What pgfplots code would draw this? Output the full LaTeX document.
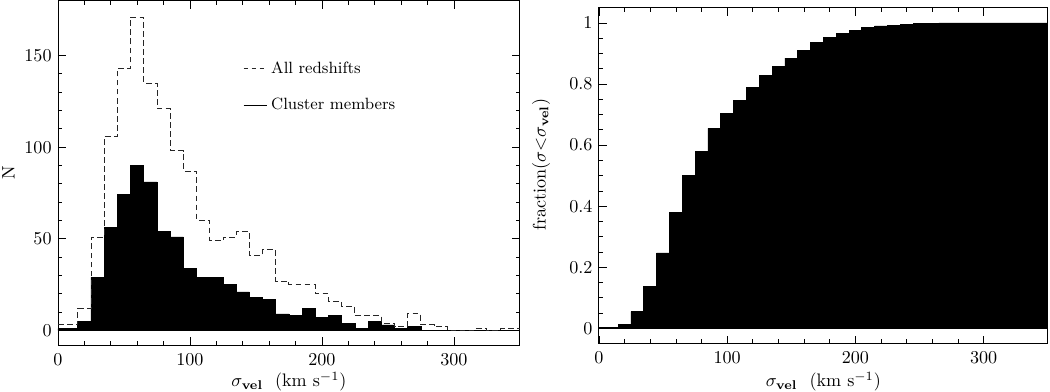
\documentclass[border=0pt]{standalone}
\usepackage{pgfplots}
\usepackage{pgfplotstable}
\pgfplotsset{compat=1.18}

% histogram of velocity dispersions, 10 km/s bins (left edges)
\pgfplotstableread{
x   all  memb
0   3    1
5   3    1
15  12   5
25  51   29
35  106  56
45  143  74
55  171  90
65  135  81
75  121  54
85  98   51
95  87   34
105 60   29
115 49   29
125 51   25
135 54   21
145 41   18
155 44   17
165 27   9
175 25   8
185 25   12
195 20   7
205 16   8
215 13   4
225 8    1
235 8    5
245 4    3
255 2    1
265 9    2
275 3    0
285 2    0
295 0    0
305 0    0
315 1    0
325 0    0
335 1    0
345 1    0
350 1    0
}\histdata

% cumulative fraction of cluster members
\pgfplotstableread{
x   frac
0   0.002
5   0.003
15  0.013
25  0.055
35  0.137
45  0.247
55  0.380
65  0.500
75  0.580
85  0.655
95  0.705
105 0.747
115 0.790
125 0.827
135 0.858
145 0.885
155 0.911
165 0.936
175 0.952
185 0.965
195 0.976
205 0.985
215 0.990
225 0.993
235 0.995
245 0.997
255 0.998
265 1.000
350 1.000
}\cumdata

\pgfplotsset{
  panel/.style={
    scale only axis,
    axis line style={line width=0.5pt},
    tick align=inside,
    tick style={black, line width=0.4pt},
    major tick length=4.5pt,
    minor tick length=2.3pt,
    xmin=0, xmax=350,
    xtick={0,100,200,300},
    minor x tick num=4,
    tick label style={font=\normalsize},
    xticklabel style={yshift=-1pt},
    xlabel={$\sigma_{\mathbf{vel}}$\ \ (km\ s$^{-1}$)},
    xlabel style={at={(axis description cs:0.5,0)}, anchor=center, yshift=-20pt},
  }
}

\begin{document}
\begin{tikzpicture}
\begin{axis}[panel,
  at={(0pt,0pt)}, anchor=north west,
  width=255pt, height=190.4pt,
  ymin=-8.2, ymax=180,
  ytick={0,50,100,150},
  minor y tick num=4,
  ylabel={N},
  ylabel style={at={(axis description cs:-0.107,0.5)}, anchor=center},
  legend style={draw=none, fill=none, at={(0.40,0.835)}, anchor=north west,
    font=\small, row sep=8.5pt, inner sep=0pt},
  legend cell align=left,
  legend image code/.code={\draw[#1] (0pt,0pt) -- (13pt,0pt);},
]
\addplot[const plot mark left, fill=black, draw=black, line width=0.4pt, forget plot]
  table[x=x, y=memb] {\histdata} \closedcycle;
\addplot[const plot mark left, black!85, line width=0.5pt, dash pattern=on 3.2pt off 1.8pt, forget plot]
  table[x=x, y=all] {\histdata};
\addlegendimage{black!85, line width=0.5pt, dash pattern=on 2.6pt off 1.8pt}
\addlegendentry{All redshifts}
\addlegendimage{black, line width=0.5pt}
\addlegendentry{Cluster members}
\end{axis}

\begin{axis}[panel,
  at={(298.6pt,-3.9pt)}, anchor=north west,
  width=247.8pt, height=185.5pt,
  ymin=-0.05, ymax=1.05,
  ytick={0,0.2,0.4,0.6,0.8,1},
  minor y tick num=3,
  ylabel={fraction($\sigma{<}\sigma_{\mathbf{vel}}$)},
  ylabel style={at={(axis description cs:-0.129,0.533)}, anchor=center},
  xlabel style={yshift=-1pt},
]
\addplot[const plot mark left, fill=black, draw=black, line width=0.4pt]
  table[x=x, y=frac] {\cumdata} \closedcycle;
\end{axis}

\pgfresetboundingbox
\useasboundingbox (-32pt,0.3pt) rectangle (547.6pt,-215.8pt);
\end{tikzpicture}
\end{document}
